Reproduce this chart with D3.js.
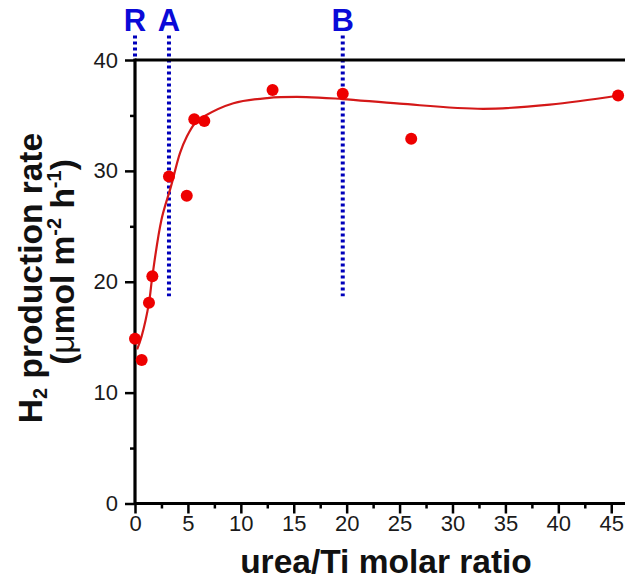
<!DOCTYPE html>
<html><head><meta charset="utf-8">
<script src="https://cdn.jsdelivr.net/npm/d3@7"></script>
<style>body{margin:0;background:#fff}svg{display:block}</style>
</head><body>
<svg id="c" width="625" height="579"></svg>
<script>
// measured points
const ratioX = [0, 0.63, 1.32, 1.64, 3.21, 4.89, 5.6, 6.55, 13.0, 19.63, 26.1, 45.65];
const rateY  = [14.85, 12.95, 18.1, 20.5, 29.5, 27.75, 34.66, 34.5, 37.3, 36.96, 32.9, 36.8];
// fitted curve
const fitX = [0.2, 0.63, 1.32, 1.64, 2.5, 3.4, 4.25, 4.9, 5.67, 6.5, 9.3, 12.5, 16.2, 19.6, 25.0, 32.9, 39.2, 45.7];
const fitY = [13.9, 15.1, 18.1, 20.5, 25.6, 28.6, 31.6, 33.1, 34.3, 34.9, 36.1, 36.57, 36.66, 36.48, 36.06, 35.6, 35.97, 36.8];
// marker lines
const markLabels = ["R", "A", "B"];
const markX = [0, 3.21, 19.63];
const markTop = [42.2, 42.2, 42.2];
const markBottom = [40, 18.7, 18.7];
const xTicks = [0, 5, 10, 15, 20, 25, 30, 35, 40, 45];
const xMinor = [2.5, 7.5, 12.5, 17.5, 22.5, 27.5, 32.5, 37.5, 42.5];
const yTicks = [0, 10, 20, 30, 40];
const yMinor = [5, 15, 25, 35];

const svg = d3.select("#c");
const F = "'Liberation Sans', Arial, sans-serif";
const x = d3.scaleLinear().domain([0, 46.3]).range([135, 625]);
const y = d3.scaleLinear().domain([0, 40]).range([503.5, 60]);

// dotted marker lines
svg.selectAll(".mk").data(markX).enter().append("line")
  .attr("x1", d => x(d)).attr("x2", d => x(d))
  .attr("y1", (d, i) => y(markTop[i])).attr("y2", (d, i) => y(markBottom[i]))
  .attr("stroke", "#0000bb").attr("stroke-width", 4).attr("stroke-dasharray", "3,3");
svg.selectAll(".ml").data(markLabels).enter().append("text")
  .attr("x", (d, i) => x(markX[i])).attr("y", 31)
  .attr("text-anchor", "middle").attr("font-family", F).attr("font-weight", "bold")
  .attr("font-size", 31).attr("fill", "#0a0ad8").text(d => d);

// axes
const gx = svg.append("g").attr("transform", `translate(0,${y(0)})`)
  .call(d3.axisBottom(x).tickValues(xTicks).tickSize(10).tickPadding(2).tickFormat(d3.format("d")));
const gxm = svg.append("g").attr("transform", `translate(0,${y(0)})`)
  .call(d3.axisBottom(x).tickValues(xMinor).tickSize(5).tickFormat(""));
const gy = svg.append("g").attr("transform", `translate(${x(0)},0)`)
  .call(d3.axisLeft(y).tickValues(yTicks).tickSize(10).tickPadding(7).tickFormat(d3.format("d")));
const gym = svg.append("g").attr("transform", `translate(${x(0)},0)`)
  .call(d3.axisLeft(y).tickValues(yMinor).tickSize(5).tickFormat(""));
[gx, gxm, gy, gym].forEach(g => {
  g.select(".domain").remove();
  g.selectAll(".tick line").attr("stroke", "#000").attr("stroke-width", 2.5);
  g.selectAll(".tick text").attr("font-family", F).attr("font-size", 22).attr("fill", "#1a1a1a");
});
// axis lines
svg.append("line").attr("x1", x(0)).attr("x2", 625).attr("y1", y(0)).attr("y2", y(0))
  .attr("stroke", "#000").attr("stroke-width", 3);
svg.append("line").attr("x1", x(0)).attr("x2", 625).attr("y1", y(40)).attr("y2", y(40))
  .attr("stroke", "#000").attr("stroke-width", 3);
svg.append("line").attr("x1", x(0)).attr("x2", x(0)).attr("y1", y(40) - 1.5).attr("y2", y(0) + 1.5)
  .attr("stroke", "#000").attr("stroke-width", 3.2);

// fit curve
const fit = fitX.map((d, i) => [d, fitY[i]]);
svg.append("path").datum(fit)
  .attr("d", d3.line().x(d => x(d[0])).y(d => y(d[1])).curve(d3.curveCatmullRom.alpha(0.5)))
  .attr("fill", "none").attr("stroke", "#d41818").attr("stroke-width", 2.2);

// points
svg.selectAll(".pt").data(ratioX).enter().append("circle")
  .attr("cx", d => x(d)).attr("cy", (d, i) => y(rateY[i])).attr("r", 6)
  .attr("fill", "#ee0000");

// titles
svg.append("text").attr("x", 386).attr("y", 573).attr("text-anchor", "middle")
  .attr("font-family", F).attr("font-weight", "bold").attr("font-size", 33.5).attr("fill", "#111")
  .text("urea/Ti molar ratio");
const t1 = svg.append("text").attr("transform", "translate(42,278) rotate(-90)").attr("text-anchor", "middle")
  .attr("font-family", F).attr("font-weight", "bold").attr("font-size", 33.5).attr("fill", "#111");
t1.append("tspan").text("H");
t1.append("tspan").attr("font-size", 20).attr("dy", 5).text("2");
t1.append("tspan").attr("dy", -5).text(" production rate");
const t2 = svg.append("text").attr("transform", "translate(74,262) rotate(-90)").attr("text-anchor", "middle")
  .attr("font-family", F).attr("font-weight", "bold").attr("font-size", 33.5).attr("fill", "#111");
t2.append("tspan").text("(");
t2.append("tspan").attr("font-weight", "normal").text("μ");
t2.append("tspan").text("mol m");
t2.append("tspan").attr("font-size", 20).attr("dy", -13).text("-2");
t2.append("tspan").attr("dy", 13).text(" h");
t2.append("tspan").attr("font-size", 20).attr("dy", -13).text("-1");
t2.append("tspan").attr("dy", 13).text(")");
</script>
</body></html>
